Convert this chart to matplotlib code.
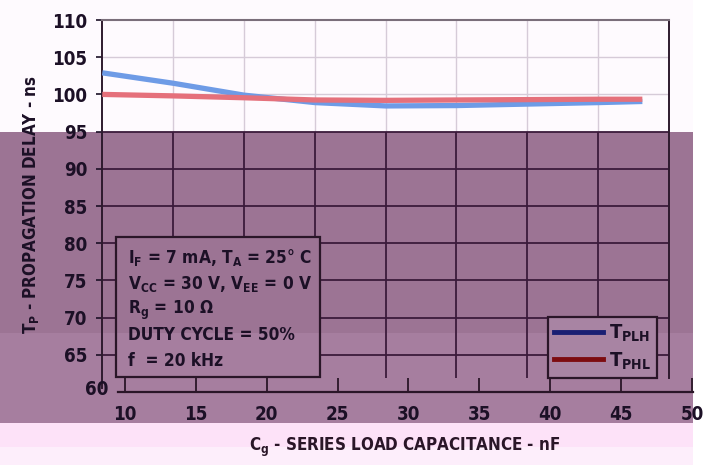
import matplotlib
matplotlib.use('Agg')
import matplotlib.pyplot as plt
from matplotlib.lines import Line2D
from matplotlib.patches import Rectangle
import numpy as np

plt.rcParams['font.family'] = ['DejaVu Sans']
plt.rcParams['font.weight'] = 'bold'
plt.rcParams['font.stretch'] = 'condensed'
plt.rcParams['mathtext.fontset'] = 'custom'
fnt = 'DejaVu Sans:weight=bold:stretch=condensed'
plt.rcParams['mathtext.rm'] = fnt
plt.rcParams['mathtext.it'] = fnt
plt.rcParams['mathtext.bf'] = fnt

# data (x as read on the printed axis)
cap_nf = [8.4, 13.4, 18.4, 23.4, 28.4, 33.4, 38.4, 43.4, 46.5]
tplh = [102.9, 101.5, 99.9, 98.9, 98.45, 98.5, 98.7, 98.9, 99.05]
tphl = [100.0, 99.8, 99.55, 99.25, 99.2, 99.25, 99.3, 99.35, 99.35]

x_ticks = [10, 15, 20, 25, 30, 35, 40, 45, 50]
y_ticks = [65, 70, 75, 80, 85, 90, 95, 100, 105, 110]
notes = [r'$\mathrm{I_F}$ = 7 mA, $\mathrm{T_A}$ = 25° C',
         r'$\mathrm{V_{CC}}$ = 30 V, $\mathrm{V_{EE}}$ = 0 V',
         r'$\mathrm{R_g}$ = 10 Ω',
         'DUTY CYCLE = 50%',
         'f  = 20 kHz']

W, H = 707, 465
ink = '#1c1026'
dark_grid = '#3b1b3b'
light_grid = '#d6cbd8'
purple = '#9c7494'
purple_lo = '#a67e9f'

fig = plt.figure(figsize=(W / 100, H / 100), dpi=100, facecolor='#fefafe')

def band(x0, y0, x1, y1, c):
    fig.add_artist(Rectangle((x0 / W, 1 - y1 / H), (x1 - x0) / W, (y1 - y0) / H,
                             transform=fig.transFigure, facecolor=c,
                             edgecolor='none', zorder=-10))

band(693, 0, W, H, 'white')
band(0, 132, 693, 333, purple)
band(0, 333, 693, 423, purple_lo)
band(0, 423, 693, 447, '#fde2f8')
band(0, 447, 693, H, '#fdeefb')

ax = fig.add_axes([102 / W, 73 / H, 567 / W, 372 / H])
ax.set_facecolor('none')
x_lo, x_hi = 8.38, 48.38
ax.set_xlim(x_lo, x_hi)
ax.set_ylim(60, 110)
y_floor = 61.9

grid_x = np.arange(x_lo + 5, x_hi, 5)
ax.vlines(grid_x, 95, 110, color=light_grid, lw=1.0, zorder=1)
ax.vlines(grid_x, y_floor, 95, color=dark_grid, lw=1.3, zorder=1)
for y in y_ticks[:-1]:
    c, w = (light_grid, 1.0) if y > 95 else (dark_grid, 1.3)
    ax.axhline(y, color=c, lw=w, zorder=1)

ax.spines['bottom'].set_visible(False)
ax.spines['top'].set_color('#7a6e7a')
ax.spines['top'].set_linewidth(1.5)
ax.spines['left'].set_bounds(60.6, 110)
ax.spines['right'].set_bounds(y_floor, 110)
for s in ['left', 'right']:
    ax.spines[s].set_color('#2e1a2e')
    ax.spines[s].set_linewidth(1.4)

ax.set_xticks([])
ax.set_yticks(y_ticks)
ax.tick_params(axis='y', direction='out', length=4.3, width=1.2, color=ink,
               pad=6.5, labelsize=13.5, labelcolor=ink)
ax.text(-0.009, 0.006, '60', transform=ax.transAxes, ha='center', va='center',
        fontsize=13.5, color=ink)

ax.plot(cap_nf, tplh, color='#6e9be6', lw=3.8, zorder=3, solid_capstyle='butt')
ax.plot(cap_nf, tphl, color='#e5707b', lw=3.8, zorder=4, solid_capstyle='butt')

# condition box
bx0, bx1, by0, by1, split = 0.0247, 0.384, 0.040, 0.417, 0.159
ax.add_patch(Rectangle((bx0, split), bx1 - bx0, by1 - split, transform=ax.transAxes,
                       facecolor=purple, edgecolor='none', zorder=5))
ax.add_patch(Rectangle((bx0, by0), bx1 - bx0, split - by0, transform=ax.transAxes,
                       facecolor=purple_lo, edgecolor='none', zorder=5))
ax.add_patch(Rectangle((bx0, by0), bx1 - bx0, by1 - by0, transform=ax.transAxes,
                       facecolor='none', edgecolor='#2a1628', lw=1.6, zorder=6))
for i, t in enumerate(notes):
    ax.text(0.046, 0.347 - i * 0.0692, t, transform=ax.transAxes, ha='left',
            va='baseline', fontsize=12.4, color=ink, zorder=7)

handles = [Line2D([], [], color='#1a1f73', lw=3.5),
           Line2D([], [], color='#7d0c10', lw=3.5)]
leg = ax.legend(handles, [r'$\mathrm{T_{PLH}}$', r'$\mathrm{T_{PHL}}$'],
                loc='lower left', bbox_to_anchor=(0.787, 0.038), borderaxespad=0,
                fontsize=14.5, handlelength=2.4, handletextpad=0.3, labelspacing=0.3,
                borderpad=0.3, fancybox=False, framealpha=1, labelcolor=ink)
leg.get_frame().set_facecolor('#a884a3')
leg.get_frame().set_edgecolor('#2a1628')
leg.get_frame().set_linewidth(1.6)
leg.set_zorder(8)

# printed x axis sits a little right of the plot frame
axx = fig.add_axes([118 / W, 73 / H, 575 / W, 0.02])
axx.set_facecolor('none')
axx.set_xlim(9.51, 50.07)
axx.set_yticks([])
for s in ['top', 'left', 'right']:
    axx.spines[s].set_visible(False)
axx.spines['bottom'].set_color('#2a1628')
axx.spines['bottom'].set_linewidth(1.6)
axx.set_xticks(x_ticks)
axx.tick_params(axis='x', direction='in', length=10, width=1.3, color='#2a1628',
                pad=9.5, labelsize=13.5, labelcolor=ink)

fig.text(31 / W, 1 - 205 / H, r'$\mathrm{T_P}$ - PROPAGATION DELAY - ns',
         rotation=90, ha='center', va='center', fontsize=12.2, color=ink)
fig.text(405 / W, 1 - 447 / H, r'$\mathrm{C_g}$ - SERIES LOAD CAPACITANCE - nF',
         ha='center', va='center', fontsize=12.2, color='#2a1628')

fig.savefig('out.png', dpi=100, facecolor=fig.get_facecolor())
